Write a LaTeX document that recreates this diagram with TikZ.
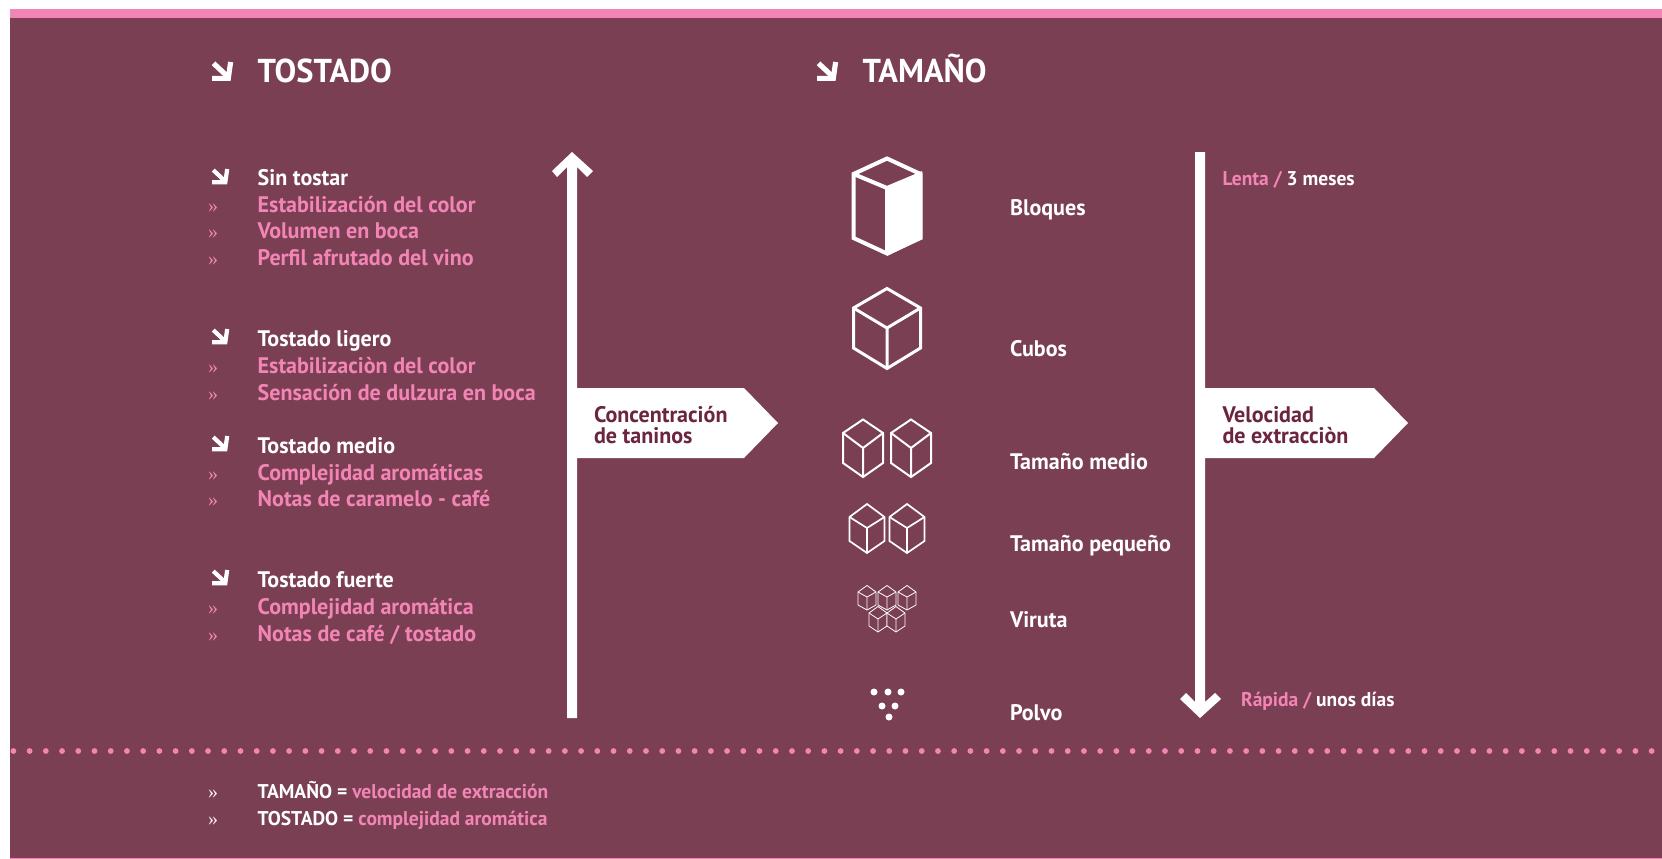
\documentclass[tikz,border=0pt]{standalone}
\usepackage{fontspec}
\setmainfont[FakeStretch=0.98]{PT Sans}
\newfontfamily\guil{Liberation Serif}
\definecolor{bgwine}{HTML}{7A3F52}
\definecolor{rosa}{HTML}{F285B5}
\definecolor{darkwine}{HTML}{6B2540}
\newcommand{\ftitle}{\fontsize{33.1}{36}\bfseries\selectfont}
\newcommand{\fitem}{\fontsize{22.5}{24}\bfseries\selectfont}
\newcommand{\fsmall}{\fontsize{19.9}{22}\bfseries\selectfont}
% diagonal arrow glyph: left x, top y, size
\newcommand{\diagarrow}[3]{%
  \draw[white,line width=#3*0.27pt,miter limit=10] ({#1+#3*0.98},{#2}) -- ({#1+#3*0.86},{#2+#3*0.86}) -- ({#1},{#2+#3*0.86});
  \draw[white,line width=#3*0.27pt] ({#1+#3*0.08},{#2+#3*0.07}) -- ({#1+#3*0.86},{#2+#3*0.8});
}
% isometric cube: centre x, top y, half width, side y, front-corner y, lower side y, bottom y, line width
\newcommand{\cubeicon}[8]{%
  \filldraw[white,fill=bgwine,line width=#8pt,line join=miter]
    (#1,#2) -- ({#1+#3},#4) -- ({#1+#3},#6) -- (#1,#7) -- ({#1-#3},#6) -- ({#1-#3},#4) -- cycle;
  \draw[white,line width=#8pt,line join=miter]
    ({#1-#3},#4) -- (#1,#5) -- ({#1+#3},#4) (#1,#5) -- (#1,#7);
}
\tikzset{
  txt/.style={anchor=base west,inner sep=0pt,outer sep=0pt},
  head/.style={txt,text=white,font=\ftitle},
  lead/.style={txt,text=white,font=\fitem},
  rose/.style={txt,text=rosa,font=\fitem},
  low/.style={txt,font=\fsmall},
  tag/.style={txt,text=darkwine,font=\fitem},
  bull/.style={anchor=base west,inner sep=0pt,text=rosa,font=\guil\fontsize{20}{22}\selectfont},
}
\begin{document}
\begin{tikzpicture}[x=1pt,y=-1pt]
\useasboundingbox (0,0) rectangle (1662,859);
\fill[white] (0,0) rectangle (1662,859);
\fill[bgwine] (10,9) rectangle (1662,858);
\fill[rosa] (10,9) rectangle (1662,18);
\fill[rosa] (10,857.5) rectangle (1662,858.5);
% dotted divider
\foreach \i in {0,...,101} \fill[rosa] ({13.4+16.22*\i},751) circle (2.9pt);
% titles
\diagarrow{212}{62}{19}
\node[head] (t1) at (257.5,82) {TOSTADO};
\diagarrow{817}{62}{19}
\node[head] (t2) at (862.5,82) {TAMAÑO};
% left list
\diagarrow{212}{169}{15.5}
\node[lead] (a0) at (257.7,185) {Sin tostar};
\node[bull] (b1) at (208,212) {»}; \node[rose] (a1) at (257.7,212) {Estabilización del color};
\node[bull] (b2) at (208,238) {»}; \node[rose] (a2) at (257.7,238) {Volumen en boca};
\node[bull] (b3) at (208,265) {»}; \node[rose] (a3) at (257.7,265) {Perfil afrutado del vino};
\diagarrow{212}{329}{15.5}
\node[lead] (a4) at (257.7,346) {Tostado ligero};
\node[bull] (b4) at (208,373) {»}; \node[rose] (a5) at (257.7,373) {Estabilizaciòn del color};
\node[bull] (b5) at (208,400) {»}; \node[rose] (a6) at (257.7,400) {Sensación de dulzura en boca};
\diagarrow{212}{436}{15.5}
\node[lead] (a7) at (257.7,453) {Tostado medio};
\node[bull] (b6) at (208,480) {»}; \node[rose] (a8) at (257.7,480) {Complejidad aromáticas};
\node[bull] (b7) at (208,506) {»}; \node[rose] (a9) at (257.7,506) {Notas de caramelo - café};
\diagarrow{212}{570}{15.5}
\node[lead] (a10) at (257.7,587) {Tostado fuerte};
\node[bull] (b8) at (208,614) {»}; \node[rose] (a11) at (257.7,614) {Complejidad aromática};
\node[bull] (b9) at (208,641) {»}; \node[rose] (a12) at (257.7,641) {Notas de café / tostado};
% up arrow
\fill[white] (577,718) -- (567,718) -- (567,167) -- (557,177) -- (552,171) -- (572,152) -- (593,171) -- (587,177) -- (577,167) -- cycle;
\fill[white] (577,388) -- (744,388) -- (778,423) -- (744,458) -- (577,458) -- cycle;
\node[tag] (c1) at (594,422) {Concentración};
\node[tag] (c2) at (594,443) {de taninos};
% down arrow
\fill[white] (1195,152) -- (1205,152) -- (1205,702) -- (1215,693) -- (1221,699) -- (1200,718) -- (1180,699) -- (1186,693) -- (1195,702) -- cycle;
\fill[white] (1205,388) -- (1374,388) -- (1408,423) -- (1374,458) -- (1205,458) -- cycle;
\node[tag] (c3) at (1222.5,422) {Velocidad};
\node[tag] (c4) at (1222.5,443) {de extracciòn};
\node[low] (s1) at (1222.5,185) {\textcolor{rosa}{Lenta /} \textcolor{white}{3 meses}};
\node[low] (s2) at (1241,706) {\textcolor{rosa}{Rápida /} \textcolor{white}{unos días}};
% cubes
\cubeicon{887}{158.5}{33.5}{174}{188}{238}{253.5}{4}
\fill[white] (887,188) -- (922,171) -- (922,239) -- (887,256) -- cycle;
\cubeicon{887}{288.5}{33.5}{308}{328}{348}{368.5}{3}
\cubeicon{863}{419.5}{20}{433}{448}{463}{477}{2}
\cubeicon{911}{419.5}{20}{433}{448}{463}{477}{2}
\cubeicon{867}{504}{17.5}{517}{528}{541}{553}{1.7}
\cubeicon{907}{504}{17.5}{517}{528}{541}{553}{1.7}
\cubeicon{867}{585.5}{9}{592}{597}{605}{610}{0.8}
\cubeicon{887}{585.5}{9}{592}{597}{605}{610}{0.8}
\cubeicon{907}{585.5}{9}{592}{597}{605}{610}{0.8}
\cubeicon{878}{606.5}{9}{613}{619}{626}{632}{0.8}
\cubeicon{896}{606.5}{9}{613}{619}{626}{632}{0.8}
% dust
\foreach \x/\y in {874/692,888/692,901/692,882/706,895/706,889/717} \fill[white] (\x,\y) circle (3.5pt);
% size labels
\node[lead] (d1) at (1010,215) {Bloques};
\node[lead] (d2) at (1010,356) {Cubos};
\node[lead] (d3) at (1010,469) {Tamaño medio};
\node[lead] (d4) at (1010,551) {Tamaño pequeño};
\node[lead] (d5) at (1010,627) {Viruta};
\node[lead] (d6) at (1010,720) {Polvo};
% footer
\node[bull,text=white!85!rosa] (f0) at (208,798) {»};
\node[low] (f1) at (257.5,798) {\textcolor{white}{TAMAÑO =} \textcolor{rosa}{velocidad de extracción}};
\node[bull,text=white!85!rosa] (f2) at (208,825) {»};
\node[low] (f3) at (257.5,825) {\textcolor{white}{TOSTADO =} \textcolor{rosa}{complejidad aromática}};
\end{tikzpicture}
\end{document}
